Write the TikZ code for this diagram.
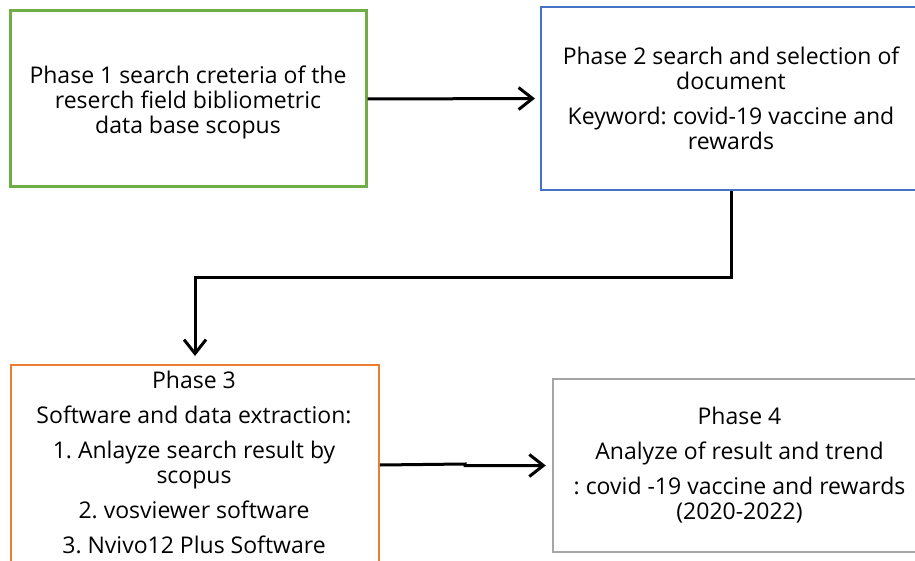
\documentclass[tikz,border=0pt]{standalone}
\usepackage{fontspec}
\setmainfont{Open Sans}
\frenchspacing
\usetikzlibrary{arrows.meta}
\definecolor{bgreen}{HTML}{70AD47}
\definecolor{bblue}{HTML}{4472C4}
\definecolor{borange}{HTML}{ED7D31}
\definecolor{bgray}{HTML}{A5A5A5}
\tikzset{
  boxbase/.style={rectangle, inner sep=0pt, align=center, fill=white,
    font=\fontsize{23}{25}\selectfont\frenchspacing},
  conn/.style={draw=black, line width=3pt,
    -{Straight Barb[length=14pt,width=22pt,line width=3pt]}},
  txt/.style={inner sep=0pt, align=center, font=\fontsize{23}{25}\selectfont\frenchspacing}
}
\begin{document}
\begin{tikzpicture}[x=1pt,y=-1pt]
\useasboundingbox (0,0) rectangle (915,561);
\clip (0,0) rectangle (915,561);
\fill[white] (0,0) rectangle (915,561);

\node[boxbase, draw=bgreen, line width=3pt, minimum width=356pt, minimum height=176pt] (b1) at (188,99) {};
\node[txt] (t1) at (188,102)
  {Phase 1 search creteria of the\\reserch field bibliometric\\data base scopus};

\node[boxbase, draw=bblue, line width=2pt, minimum width=380pt, minimum height=183pt] (b2) at (731,98.5)
  {Phase 2 search and selection of\\document\\[10pt]Keyword: covid-19 vaccine and\\rewards};

\node[boxbase, draw=borange, line width=2pt, minimum width=368pt, minimum height=200pt, anchor=north west] (b3) at (10,364) {};
\node[txt, anchor=north] (t3) at (194,371)
  {Phase 3\\[10pt]Software and data extraction:\\[10pt]1. Anlayze search result by\\scopus\\[10pt]2. vosviewer software\\[10pt]3. Nvivo12 Plus Software};

\node[boxbase, draw=bgray, line width=2.5pt, minimum width=373pt, minimum height=173pt] (b4) at (739.5,465.5)
  {Phase 4\\[10pt]Analyze of result and trend\\[10pt]: covid -19 vaccine and rewards\\(2020-2022)};

\draw[conn, shorten >=5pt] (b1.east) -- (b2.west);
\coordinate (bend2) at (731,277);
\draw[conn, shorten >=8pt] (b2.south) -- (bend2) -| (b3.north);
\coordinate (jog) at (465,464);
\draw[conn, shorten >=6pt] (b3.east) -- (jog) |- (b4.west);
\end{tikzpicture}
\end{document}
